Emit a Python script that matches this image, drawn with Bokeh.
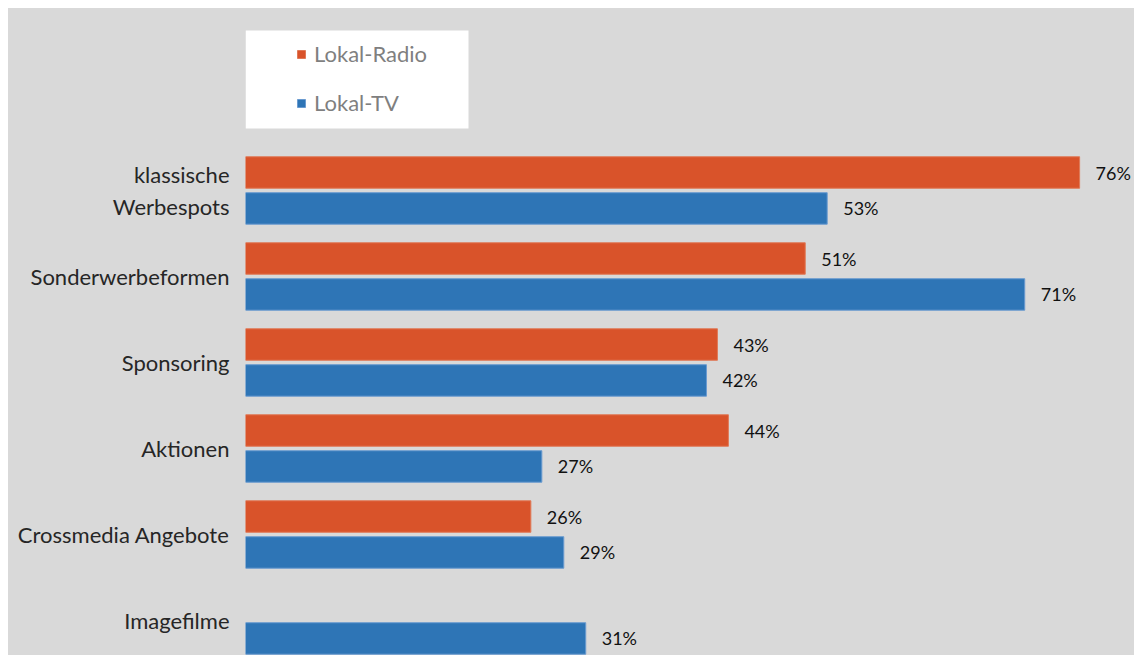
from bokeh.plotting import figure
from bokeh.models import ColumnDataSource, Range1d, FixedTicker, BoxAnnotation
from bokeh.transform import dodge
from bokeh.core.properties import value
from bokeh.embed import file_html
from bokeh.resources import INLINE
import numpy as np

categories = ["klassische\nWerbespots", "Sonderwerbeformen", "Sponsoring",
              "Aktionen", "Crossmedia Angebote", "Imagefilme"]
radio = [76, 51, 43, 44, 26, np.nan]
tv = [53, 71, 42, 27, 29, 31]
series_names = ["Lokal-Radio", "Lokal-TV"]

ORANGE = "#D9532A"
BLUE = "#2E75B6"
BG = "#D9D9D9"
FONT = "Lato"

idx = list(range(len(categories)))
src = ColumnDataSource(dict(
    idx=idx,
    radio=radio,
    tv=tv,
    radio_lbl=["" if np.isnan(v) else f"{int(v)}%" for v in radio],
    tv_lbl=[f"{int(v)}%" for v in tv],
))

p = figure(width=1126, height=647, output_backend="svg", toolbar_location=None,
           x_range=Range1d(0, 81), y_range=Range1d(5.407, -2.116),
           min_border_left=237, min_border_right=0, min_border_top=0, min_border_bottom=0,
           border_fill_color=BG, background_fill_color=BG, outline_line_color=None)
p.margin = (8, 0, 0, 8)
p.styles = {"background-color": BG}

off = 0.209
bh = 0.366
r1 = p.hbar(y=dodge("idx", -off), right="radio", left=0, height=bh, source=src,
            fill_color=ORANGE, line_color="#E07A58", line_width=1, legend_label=series_names[0])
r2 = p.hbar(y=dodge("idx", off), right="tv", left=0, height=bh, source=src,
            fill_color=BLUE, line_color="#6A9BD0", line_width=1, legend_label=series_names[1])

p.text(x="radio", y=dodge("idx", -off), text="radio_lbl", source=src, x_offset=16,
       text_baseline="middle", text_align="left", text_font=value(FONT),
       text_font_size="18px", text_color="#111111")
p.text(x="tv", y=dodge("idx", off), text="tv_lbl", source=src, x_offset=16,
       text_baseline="middle", text_align="left", text_font=value(FONT),
       text_font_size="18px", text_color="#111111")

p.xaxis.visible = False
p.xgrid.visible = False
p.ygrid.visible = False

ya = p.yaxis[0]
ya.ticker = FixedTicker(ticks=idx)
ya.major_label_overrides = {i: c for i, c in zip(idx, categories)}
ya.axis_line_color = None
ya.major_tick_line_color = None
ya.minor_tick_line_color = None
ya.major_label_text_font = FONT
ya.major_label_text_font_size = "22px"
ya.major_label_text_color = "#262626"
ya.major_label_standoff = 10

box = BoxAnnotation(left=0, right=223, top=625, bottom=527,
                    left_units="screen", right_units="screen",
                    top_units="screen", bottom_units="screen",
                    fill_color="white", fill_alpha=1, line_color=None, level="underlay")
p.add_layout(box)

lg = p.legend[0]
lg.location = (51, 539)
lg.margin = 0
lg.padding = 0
lg.spacing = 22
lg.glyph_width = 10
lg.glyph_height = 10
lg.label_height = 20
lg.label_standoff = 8
lg.label_text_font = FONT
lg.label_text_font_size = "22px"
lg.label_text_color = "#7F7F7F"
lg.background_fill_alpha = 0
lg.border_line_color = None

open("out.html", "w").write(file_html(p, INLINE))
